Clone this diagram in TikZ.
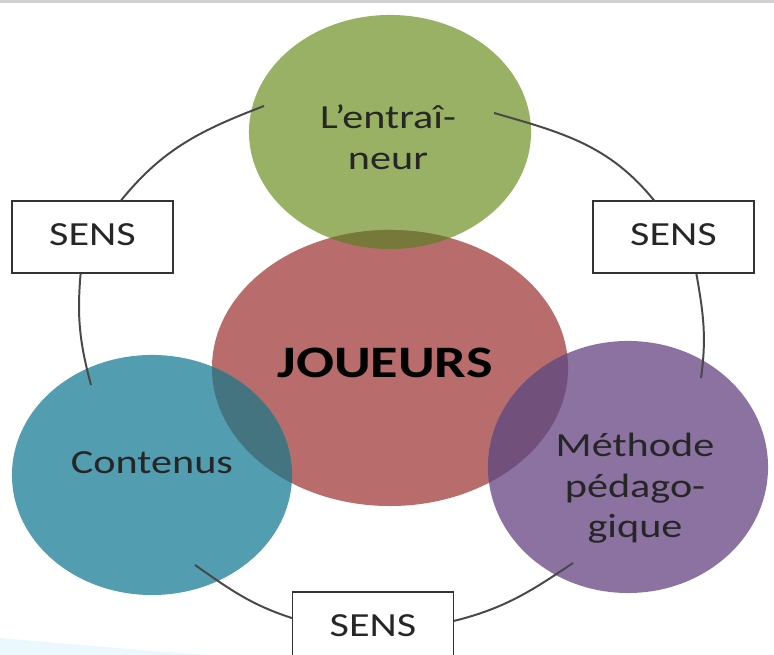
\documentclass[tikz,border=0pt]{standalone}
\usepackage{fontspec}
\setmainfont{Carlito}
\usepackage{graphicx}
\usetikzlibrary{shapes.geometric}

\definecolor{coachGreen}{RGB}{152,177,100}
\definecolor{playerRed}{RGB}{184,109,108}
\definecolor{contentBlue}{RGB}{82,157,175}
\definecolor{methodPurple}{RGB}{140,114,161}
\definecolor{greenRed}{RGB}{118,121,58}
\definecolor{blueRed}{RGB}{68,116,128}
\definecolor{purpleRed}{RGB}{114,80,124}
\definecolor{ringGray}{RGB}{72,72,72}

\newcommand{\widetext}[1]{\scalebox{1.25}[1]{\begin{tabular}{@{}c@{}}#1\end{tabular}}}

\begin{document}
\begin{tikzpicture}[
    x=0.025cm, y=0.025cm,
    disc/.style={ellipse, inner sep=0pt, draw=none},
    lbl/.style={inner sep=0pt, text=black!85, font=\fontsize{24}{28.5}\selectfont},
    sensbox/.style={rectangle, draw=black!80, line width=0.8pt, fill=white, text=black!85, font=\fontsize{24}{28.5}\selectfont, minimum width=4.025cm, minimum height=1.8cm},
    ring/.style={draw=ringGray, line width=1.4pt}
]
\useasboundingbox (0,0) rectangle (774,655);
\clip (0,0) rectangle (774,655);

% slide edges
\fill[black!18] (0,652) rectangle (774,655);
\fill[cyan!8] (0,17) .. controls (80,10) and (150,4) .. (210,0) -- (0,0) -- cycle;

% Circles
\node[disc, fill=coachGreen, minimum width=7.05cm, minimum height=5.85cm] (coach) at (390,523) {};
\node[disc, fill=playerRed, minimum width=8.9cm, minimum height=6.9cm] (players) at (390,287) {};
\node[disc, fill=contentBlue, minimum width=7cm, minimum height=6cm] (content) at (152,180) {};
\node[disc, fill=methodPurple, minimum width=7cm, minimum height=6.3cm] (method) at (628,188) {};

% Overlaps
\begin{scope}
  \clip (players.center) ellipse [x radius=4.45cm, y radius=3.45cm];
  \fill[greenRed] (coach.center) ellipse [x radius=3.525cm, y radius=2.925cm];
  \fill[blueRed] (content.center) ellipse [x radius=3.5cm, y radius=3cm];
  \fill[purpleRed] (method.center) ellipse [x radius=3.5cm, y radius=3.15cm];
\end{scope}

% Texts
\node[lbl] (coachT) at (388,514) {\widetext{L’entraî-\\neur}};
\node[lbl, text=black, font=\fontsize{32}{36}\selectfont\bfseries] (playersT) at (385,288) {\widetext{JOUEURS}};
\node[lbl] (contentT) at (152,190) {\widetext{Contenus}};
\node[lbl] (methodT) at (635,166) {\widetext{Méthode\\pédago-\\gique}};

% SENS boxes
\node[sensbox] (sensL) at (92.5,418) {\widetext{SENS}};
\node[sensbox] (sensR) at (673.5,418) {\widetext{SENS}};
\node[sensbox] (sensB) at (373,27) {\widetext{SENS}};

% Ring
\draw[ring] (sensL.52) to[out=51,in=201] ([shift={(-126,26)}]coach.center);
\draw[ring] ([shift={(104,19)}]coach.center) to[out=-16,in=129] (sensR.118);
\draw[ring] (sensL.252) to[out=-95,in=105] ([shift={(-61,90)}]content.center);
\draw[ring] (sensR.302) to[out=-80,in=82] ([shift={(73,89)}]method.center);
\draw[ring] ([shift={(43,-90)}]content.center) to[out=-35,in=162] (sensB.173);
\draw[ring] (sensB.5) to[out=14,in=-146] ([shift={(-55,-96)}]method.center);

\end{tikzpicture}
\end{document}
